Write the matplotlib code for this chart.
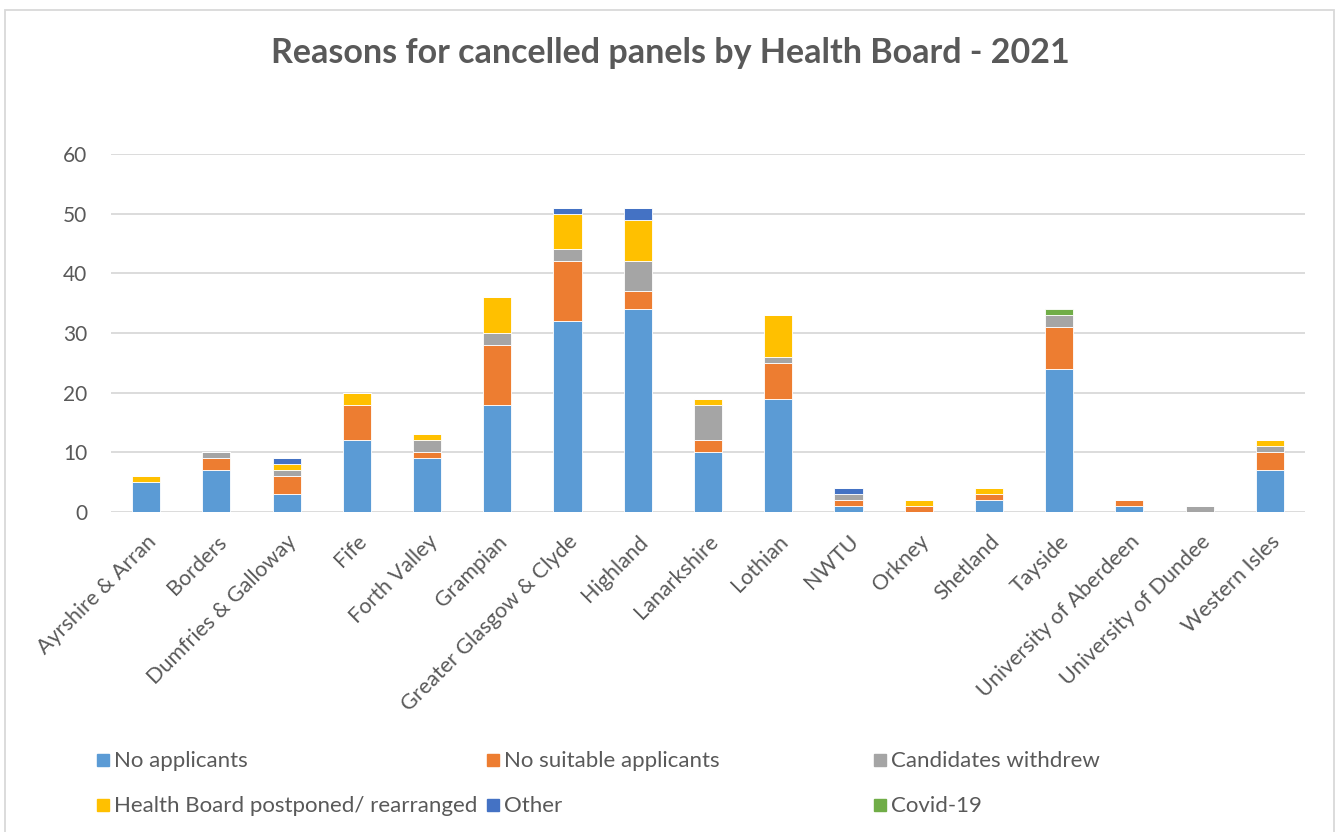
import matplotlib
matplotlib.use("Agg")
import matplotlib.pyplot as plt
from matplotlib.patches import Rectangle
import numpy as np

plt.rcParams['font.family'] = ['Lato', 'DejaVu Sans']

boards = ["Ayrshire & Arran", "Borders", "Dumfries & Galloway", "Fife", "Forth Valley",
          "Grampian", "Greater Glasgow & Clyde", "Highland", "Lanarkshire", "Lothian",
          "NWTU", "Orkney", "Shetland", "Tayside", "University of Aberdeen",
          "University of Dundee", "Western Isles"]

no_applicants = [5, 7, 3, 12, 9, 18, 32, 34, 10, 19, 1, 0, 2, 24, 1, 0, 7]
no_suitable   = [0, 2, 3, 6, 1, 10, 10, 3, 2, 6, 1, 1, 1, 7, 1, 0, 3]
withdrew      = [0, 1, 1, 0, 2, 2, 2, 5, 6, 1, 1, 0, 0, 2, 0, 1, 1]
postponed     = [1, 0, 1, 2, 1, 6, 6, 7, 1, 7, 0, 1, 1, 0, 0, 0, 1]
other         = [0, 0, 1, 0, 0, 0, 1, 2, 0, 0, 1, 0, 0, 0, 0, 0, 0]
covid         = [0, 0, 0, 0, 0, 0, 0, 0, 0, 0, 0, 0, 0, 1, 0, 0, 0]

series = [
    ("No applicants", no_applicants, "#5B9BD5"),
    ("No suitable applicants", no_suitable, "#ED7D31"),
    ("Candidates withdrew", withdrew, "#A5A5A5"),
    ("Health Board postponed/ rearranged", postponed, "#FFC000"),
    ("Other", other, "#4472C4"),
    ("Covid-19", covid, "#70AD47"),
]

W, H = 1341, 832
fig = plt.figure(figsize=(W / 100, H / 100), dpi=100)
ax = fig.add_axes([111 / W, 1 - 512 / H, (1305 - 111) / W, (512 - 154) / H])

x = np.arange(len(boards))
bottom = np.zeros(len(boards))
for name, vals, col in series:
    v = np.array(vals, dtype=float)
    ax.bar(x, v, bottom=bottom, width=0.4, color=col, edgecolor="white",
           linewidth=0.6, zorder=3, label=name)
    bottom += v

ax.set_xlim(-0.5, len(boards) - 0.5)
ax.set_ylim(0, 60)
ax.set_yticks(range(0, 61, 10))
ax.grid(axis='y', color="#D9D9D9", linewidth=1.3, zorder=0)
for s in ax.spines.values():
    s.set_visible(False)
ax.tick_params(axis='both', length=0, colors="#595959")
ax.tick_params(axis='y', pad=17, labelsize=15)
ax.set_xticks(x)
ax.set_xticklabels(boards, rotation=45, ha='right', rotation_mode='anchor',
                   fontsize=15.5, color="#595959")
ax.tick_params(axis='x', pad=14)

fig.text(0.5, 1 - 53 / H, "Reasons for cancelled panels by Health Board - 2021",
         ha='center', va='center', fontsize=24.5, fontweight='bold', color="#595959")

# legend entries (Excel-style fixed column layout)
leg_pos = [(97, 760), (487, 760), (874, 760), (97, 805), (487, 805), (874, 805)]
for (name, vals, col), (px, py) in zip(series, leg_pos):
    fig.add_artist(Rectangle((px / W, 1 - (py + 6) / H), 12 / W, 12 / H,
                             transform=fig.transFigure, color=col))
    fig.text((px + 17) / W, 1 - (py + 1) / H, name, ha='left', va='center',
             fontsize=16, color="#595959")

# chart border
fig.add_artist(Rectangle((5 / W, -0.01), (1334 - 5) / W, 1 - 10 / H + 0.01,
                         transform=fig.transFigure, fill=False,
                         edgecolor="#D9D9D9", linewidth=1.3))

fig.savefig("out.png", dpi=100, facecolor="white")
